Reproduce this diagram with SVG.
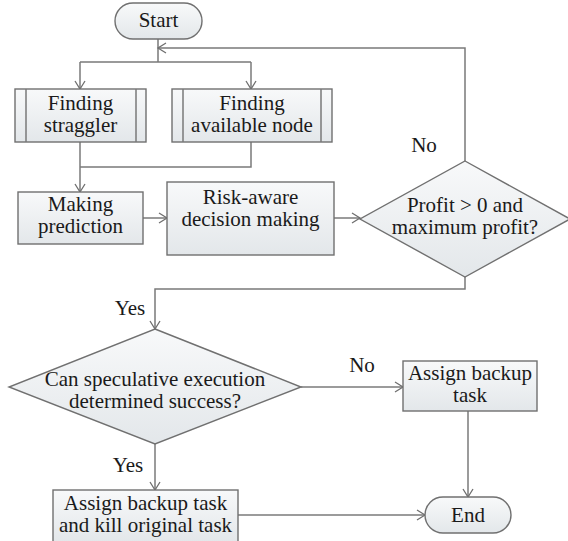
<svg xmlns="http://www.w3.org/2000/svg" width="568" height="541" viewBox="0 0 568 541">
<defs>
<linearGradient id="g" x1="0" y1="0" x2="0" y2="1">
<stop offset="0" stop-color="#f8f9fa"/>
<stop offset="1" stop-color="#e3e7ea"/>
</linearGradient>
<marker id="a" markerUnits="userSpaceOnUse" markerWidth="20" markerHeight="20" refX="10" refY="10" orient="auto" overflow="visible">
<path d="M2,5 L10,10 L2,15" fill="none" stroke="#6f6f6f" stroke-width="1.3"/>
</marker>
</defs>
<style>
.s{fill:url(#g);stroke:#707070;stroke-width:1.4}
.l{fill:none;stroke:#7a7a7a;stroke-width:1.5}
.c{fill:none;stroke:#7a7a7a;stroke-width:1.5;marker-end:url(#a)}
text{font-family:"Liberation Serif","Times New Roman",serif;font-size:21px;fill:#1a1a1a;text-anchor:middle}
</style>
<g id="connectors">
<path class="l" d="M158,39 V62 M80,62 H251"/>
<path class="c" d="M80,62 V89"/>
<path class="c" d="M251,62 V89"/>
<path class="c" d="M465,161 V48 H158"/>
<path class="l" d="M251,142 V167 H80"/>
<path class="c" d="M80,142 V192"/>
<path class="c" d="M143,218 H167"/>
<path class="c" d="M334,218 H360"/>
<path class="c" d="M465,277 V289 H155 V329"/>
<path class="c" d="M301,387 H403"/>
<path class="c" d="M155,444 V490"/>
<path class="c" d="M468,411 V497"/>
<path class="c" d="M238,515 H425"/>
<text x="424" y="152">No</text>
<text x="130" y="315">Yes</text>
<text x="362" y="372">No</text>
<text x="128" y="472">Yes</text>
</g>
<g id="start">
<rect class="s" x="115" y="3" width="87" height="36" rx="18"/>
<text x="158.5" y="27">Start</text>
</g>
<g id="finding-straggler">
<rect class="s" x="15" y="89" width="131" height="53"/>
<path class="l" d="M26,89 V142 M136,89 V142"/>
<text x="80.5" y="110">Finding</text>
<text x="80.5" y="132">straggler</text>
</g>
<g id="finding-node">
<rect class="s" x="172" y="89" width="160" height="53"/>
<path class="l" d="M183,89 V142 M321,89 V142"/>
<text x="252" y="110">Finding</text>
<text x="252" y="132">available node</text>
</g>
<g id="making-prediction">
<rect class="s" x="18" y="192" width="125" height="52"/>
<text x="80.5" y="211">Making</text>
<text x="80.5" y="233">prediction</text>
</g>
<g id="risk-aware">
<rect class="s" x="167" y="182" width="167" height="73"/>
<text x="250.5" y="204">Risk-aware</text>
<text x="250.5" y="226">decision making</text>
</g>
<g id="profit">
<polygon class="s" points="465,161 570,219 465,277 360,219"/>
<text x="465" y="212">Profit &gt; 0 and</text>
<text x="465" y="234">maximum profit?</text>
</g>
<g id="speculative">
<polygon class="s" points="155,329 301,387 155,444 9,387"/>
<text x="155" y="386">Can speculative execution</text>
<text x="155" y="408">determined success?</text>
</g>
<g id="assign-backup">
<rect class="s" x="403" y="361" width="134" height="50"/>
<text x="470" y="380">Assign backup</text>
<text x="470" y="402">task</text>
</g>
<g id="assign-kill">
<rect class="s" x="53" y="490" width="185" height="52"/>
<text x="145.5" y="510">Assign backup task</text>
<text x="145.5" y="532">and kill original task</text>
</g>
<g id="end">
<rect class="s" x="425" y="497" width="86" height="36" rx="18"/>
<text x="468" y="522">End</text>
</g>
</svg>
